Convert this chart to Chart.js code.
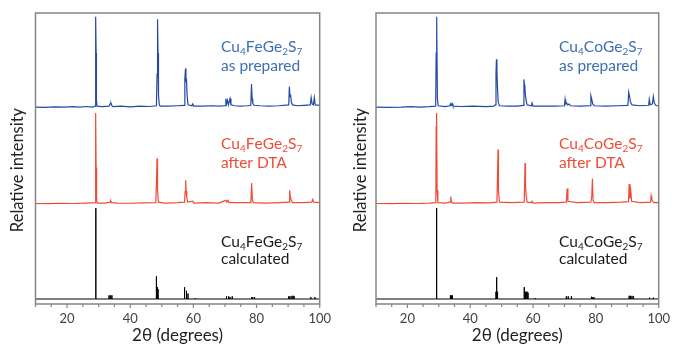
<!DOCTYPE html>
<html>
<head>
<meta charset="utf-8">
<script src="https://cdn.jsdelivr.net/npm/chart.js@4"></script>
<style>
  body { margin: 0; background: #fff; width: 677px; height: 345px; position: relative; overflow: hidden; }
  canvas { position: absolute; top: 0; }
</style>
</head>
<body>
<canvas id="feChart" width="338" height="345" style="left:0"></canvas>
<canvas id="coChart" width="339" height="345" style="left:338px"></canvas>
<script>
// XRD patterns: [2theta, relative intensity]
const feAsPrepared = [[10,0.5],[13,0.3],[16,0.8],[19,0.4],[22,1],[24,0.5],[26,1.2],[28,0.6],[28.9,1.5],[29.0,22],[29.1,100],[29.2,60],[29.3,8],[29.5,1.5],[31,1],[33.3,1.5],[33.6,4],[33.9,5],[34.2,2],[34.6,1],[37,1.5],[40,0.8],[43,1.5],[46,1.2],[48.3,2],[48.5,37],[48.65,97],[48.8,60],[48.95,14],[49.2,3],[49.5,1.5],[52,1.5],[55,2],[57.1,2.5],[57.3,31],[57.5,43],[57.65,28],[57.8,32],[58.0,14],[58.3,3],[59.5,2],[59.8,4],[60.1,1.5],[63,1.5],[66,2],[68,1.5],[70.1,2],[70.3,10],[70.5,4],[70.8,8],[71.1,3],[71.6,10],[71.9,3],[73,2],[75,1.5],[77,2],[78.2,2.5],[78.4,26],[78.6,10],[78.8,5],[79.2,2.5],[81,2],[84,1.5],[87,2],[90.2,3],[90.4,23],[90.6,12],[90.8,14],[91.0,6],[91.4,3],[93,2],[95,2.5],[97.0,3],[97.3,11],[97.6,4],[98.0,3],[98.3,11],[98.6,3],[100,2.5]];
const feAfterDTA = [[10,0.5],[14,0.3],[18,0.8],[22,0.5],[26,1],[28.9,1.5],[29.0,76],[29.1,100],[29.2,40],[29.35,3],[29.6,1],[32,1],[33.6,2],[33.8,3.5],[34.1,1.5],[36,1],[40,0.8],[44,1.2],[48.1,1.5],[48.3,23],[48.5,50],[48.65,16],[48.9,2],[51,1],[55,1.5],[57.2,2],[57.4,14],[57.55,26],[57.7,14],[57.9,7],[58.2,2],[59.8,3],[60.1,1],[64,1.5],[68,1],[70.3,4],[70.6,2],[71.0,4],[71.3,1.5],[74,1.5],[78.2,1.5],[78.45,23],[78.7,4],[79.0,1.5],[83,1],[87,1.5],[90.3,2],[90.5,15],[90.7,8],[91.0,4],[91.4,1.5],[95,1.5],[97.5,2],[97.8,5],[98.1,2],[100,1.5]];
const feCalcPos = [29.05,29.15,33.3,33.6,33.9,34.2,48.2,48.35,48.6,48.8,57.1,57.3,57.7,57.9,58.3,60.6,70.5,71.2,71.6,72.3,78.5,78.8,79.2,79.5,90.2,90.6,91.2,91.6,91.9,97.2,98.5];
const feCalcInt = [100,50,4,4,4,4,25,13,13,11,13,11,9,8,6,1,3,3,2,3,2,2,2,2,3,3,3.5,3.5,3,2,2];

const coAsPrepared = [[10,0.5],[14,0.3],[18,0.5],[21,1],[24,0.5],[27,1],[29.0,1.5],[29.15,60],[29.25,100],[29.4,95],[29.55,10],[29.8,2],[32,1],[33.5,2],[33.7,4],[33.9,2.5],[34.2,4.5],[34.5,1.5],[37,1.2],[41,1.5],[45,1],[47.5,1.5],[48.0,3],[48.2,38],[48.35,53],[48.5,40],[48.65,24],[48.9,6],[49.3,2],[52,1.5],[55,1.5],[56.9,2.5],[57.1,31],[57.25,25],[57.4,22],[57.6,13],[57.8,8],[58.1,3],[59.5,2],[59.7,5],[60.0,1.5],[63,1.5],[67,1.5],[70.0,2],[70.2,9],[70.4,4],[70.7,5],[71.0,3],[71.5,4],[71.9,2],[75,1.5],[78.2,2],[78.4,13],[78.7,9],[79.0,4],[79.5,2],[83,1.5],[87,2],[90.2,2.5],[90.45,17],[90.7,13],[91.0,6],[91.5,3],[94,2],[96.8,2.5],[97.0,9],[97.3,3],[98.0,4],[98.3,12],[98.6,5],[99.2,2],[100,2]];
const coAfterDTA = [[10,0.5],[15,0.3],[19,0.8],[23,0.5],[27,1],[29.05,1.5],[29.15,85],[29.3,100],[29.45,15],[29.7,1.5],[32,1],[33.6,2],[33.8,8],[34.0,3],[34.4,1],[38,1],[42,1.5],[46,1.2],[48.5,2],[48.7,34],[48.85,60],[49.0,14],[49.3,2],[53,1.5],[57.2,2],[57.45,45],[57.6,20],[57.8,10],[58.1,2],[59.5,1.5],[59.7,3],[60.0,1],[64,1.5],[68,1.5],[70.6,2],[70.85,17],[71.1,3],[74,1.5],[78.4,2],[78.7,9],[78.9,28],[79.1,4],[79.5,1.5],[84,1.5],[88,2],[90.4,2.5],[90.6,22],[90.8,6],[91.1,15],[91.4,3],[94,1.5],[97.4,2],[97.6,9],[97.8,5],[98.1,3],[98.5,1.5],[100,1.5]];
const coCalcPos = [29.25,29.35,33.7,34.0,34.3,48.2,48.3,48.5,48.7,57.2,57.5,57.8,58.1,58.4,60.7,70.6,71.2,72.2,78.6,79.0,79.4,90.6,91.0,91.5,92.0,97.1,98.3];
const coCalcInt = [100,8,4,4,4,8,24,13,8,13,8,8,8,7,1,3,3,3,2.5,2,2,3.5,3.5,3.5,3,1.5,1.5];

const compounds = ['Cu4FeGe2S7', 'Cu4CoGe2S7'];
const conditions = ['as prepared', 'after DTA', 'calculated'];
const xTickLabels = [20, 40, 60, 80, 100];

const lineColors = ['#2349a3', '#f04b36', '#000000'];
const textColors = ['#3a6fb7', '#f04b36', '#1a1a1a'];
const offsets = [216, 110, 5.5];   // vertical stacking of the three patterns
const labelY = [[47, 66], [144, 163], [242, 259]];

function traceData(points, offset) {
    return points.map(p => ({ x: p[0], y: p[1] + offset }));
}

function stickData(pos, ints, offset) {
    const d = [{ x: 10, y: offset }];
    pos.forEach((p, i) => {
        d.push({ x: p, y: offset }, { x: p, y: ints[i] + offset }, { x: p, y: offset });
    });
    d.push({ x: 100, y: offset });
    return d;
}

// draws a formula with the digits as subscripts
function drawFormula(ctx, text, x, y) {
    let cx = x;
    for (const ch of text) {
        const sub = /[0-9]/.test(ch);
        ctx.font = sub ? '10px Lato' : '15.5px Lato';
        ctx.fillText(ch, cx, sub ? y + 4.5 : y);
        cx += ctx.measureText(ch).width;
    }
}

const decor = {
    id: 'decor',
    afterDraw(chart, args, opts) {
        const ctx = chart.ctx;
        const area = chart.chartArea;
        const xs = chart.scales.x;
        ctx.save();
        ctx.strokeStyle = '#858585';
        ctx.lineWidth = 1.5;
        ctx.strokeRect(area.left, area.top, area.right - area.left, area.bottom - area.top);
        ctx.lineWidth = 1.2;
        xs.ticks.forEach(t => {
            const px = xs.getPixelForValue(t.value);
            const len = xTickLabels.includes(t.value) ? 4 : 3;
            ctx.beginPath();
            ctx.moveTo(px, area.bottom);
            ctx.lineTo(px, area.bottom + len);
            ctx.stroke();
        });
        ctx.fillStyle = '#222';
        ctx.font = '17px Lato';
        ctx.textAlign = 'center';
        ctx.textBaseline = 'middle';
        // x title
        ctx.fillText('2θ (degrees)', (area.left + area.right) / 2, 336);
        // y title
        ctx.font = '16.5px Lato';
        ctx.translate(opts.yTitleX, 170);
        ctx.rotate(-Math.PI / 2);
        ctx.fillText('Relative intensity', 0, 0);
        ctx.restore();

        ctx.save();
        ctx.textAlign = 'left';
        ctx.textBaseline = 'middle';
        conditions.forEach((c, i) => {
            ctx.fillStyle = textColors[i];
            drawFormula(ctx, opts.compound, opts.labelX, labelY[i][0]);
            ctx.font = '15.5px Lato';
            ctx.fillText(c, opts.labelX, labelY[i][1]);
        });
        ctx.restore();
    }
};

function makeChart(id, traces, sticks, compound, padLeft, padRight, yTitleX) {
    const datasets = traces.map((t, i) => ({
        data: traceData(t, offsets[i]),
        borderColor: lineColors[i],
        borderWidth: 1.2,
        pointRadius: 0,
        tension: 0
    }));
    datasets.push({
        data: stickData(sticks[0], sticks[1], offsets[2]),
        borderColor: lineColors[2],
        borderWidth: 1,
        pointRadius: 0,
        tension: 0
    });
    return new Chart(document.getElementById(id), {
        type: 'line',
        data: { datasets: datasets },
        options: {
            responsive: false,
            animation: false,
            layout: { padding: { left: padLeft, right: padRight, top: 13, bottom: 0 } },
            plugins: {
                legend: { display: false },
                tooltip: { enabled: false },
                decor: { compound: compound, labelX: 221, yTitleX: yTitleX }
            },
            scales: {
                x: {
                    type: 'linear',
                    min: 10,
                    max: 100,
                    grid: { display: false, drawTicks: false },
                    border: { display: false },
                    ticks: {
                        stepSize: 5,
                        autoSkip: false,
                        maxRotation: 0,
                        padding: 7,
                        color: '#404040',
                        font: { family: 'Lato', size: 13 },
                        callback: v => xTickLabels.includes(v) ? v : ''
                    },
                    afterFit: s => { s.height = 41; }
                },
                y: { display: false, min: 0, max: 320 }
            }
        },
        plugins: [decor]
    });
}

makeChart('feChart', [feAsPrepared, feAfterDTA], [feCalcPos, feCalcInt], compounds[0], 35.5, 10, 18);
makeChart('coChart', [coAsPrepared, coAfterDTA], [coCalcPos, coCalcInt], compounds[1], 38, 8, 23);
</script>
</body>
</html>
